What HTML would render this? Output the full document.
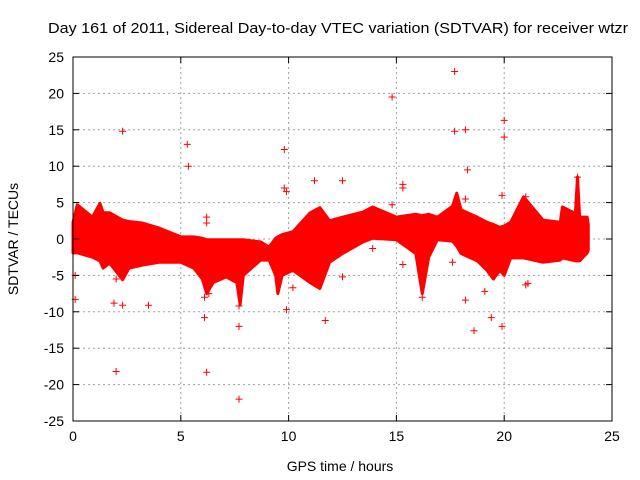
<!DOCTYPE html>
<html><head><meta charset="utf-8"><style>
html,body{margin:0;padding:0;background:#fff}
svg{display:block;font-family:"Liberation Sans",sans-serif}
</style></head><body>
<svg id="chart" width="640" height="480" xmlns="http://www.w3.org/2000/svg">
<text x="48" y="33" font-size="15" textLength="580" lengthAdjust="spacingAndGlyphs">Day 161 of 2011, Sidereal Day-to-day VTEC variation (SDTVAR) for receiver wtzr</text>
<text x="340" y="471" font-size="14" text-anchor="middle">GPS time / hours</text>
<text transform="translate(18,239) rotate(-90)" font-size="14" text-anchor="middle">SDTVAR / TECUs</text>
<g id="grid"></g>
<g id="band"></g>
<g id="axes"></g>
</svg>
<script>
const xTicks=[0,5,10,15,20,25];
const yTicks=[-25,-20,-15,-10,-5,0,5,10,15,20,25];
const bandTime=[0,0.2,0.9,1.25,1.4,1.7,2.3,2.6,3.2,4.0,5.0,5.6,6.0,6.2,6.5,7.1,7.6,7.75,7.9,8.7,9.1,9.4,9.5,9.7,10.2,11.0,11.45,11.9,12.5,13.45,13.9,15.0,15.9,16.2,16.5,16.9,17.6,17.8,18.0,18.75,19.2,19.5,19.8,20.0,20.3,20.9,21.8,22.6,22.7,23.3,23.4,23.5,23.85,23.9];
const bandUpper=[2.3,4.7,3.0,4.9,3.6,3.6,2.6,2.4,2.2,1.5,0.3,0.3,0.1,-0.1,-0.1,-0.1,-0.1,-0.1,-0.1,-0.4,-1.1,0.1,0.3,0.6,1.0,3.6,4.3,2.5,3.0,3.7,4.4,3.0,3.4,3.2,3.4,3.0,4.5,6.3,4.0,3.0,2.3,2.0,1.6,1.8,2.3,5.8,2.6,2.3,4.4,3.5,8.5,3.0,3.0,2.0];
const bandLower=[-1.9,-1.9,-2.5,-3.0,-4.0,-3.3,-5.6,-4.0,-3.6,-3.2,-3.2,-4.0,-5.5,-7.5,-6.0,-5.2,-6.0,-9.0,-5.0,-2.9,-2.9,-5.0,-7.5,-5.0,-4.3,-6.0,-6.8,-3.2,-2.0,-0.4,0.1,-0.1,-2.0,-7.5,-2.5,-0.1,-0.3,-1.0,-2.0,-3.0,-4.3,-5.5,-4.3,-5.0,-2.6,-2.6,-3.2,-2.9,-2.6,-3.0,-3.0,-3.0,-1.9,-1.5];
const outT=[2.3,5.3,5.35,9.8,9.8,9.9,11.2,12.5,14.8,15.3,15.3,17.7,17.7,18.2,18.3,18.2,20,20,19.9,21,23.4,0.1,0.1,1.9,2,2.3,3.5,6.1,6.2,7.7,7.7,7.7,9.9,10.2,11.7,12.5,13.9,16.2,18.2,18.6,19.4,19.1,19.9,21,6.2,6.2,14.8,2,17.6,15.3,21.1,6.1,6.3];
const outV=[14.8,13,10,12.3,7,6.5,8,8,19.5,7.5,7,23,14.8,15,9.5,5.5,16.3,14,6,5.8,8.5,-5,-8.3,-8.8,-18.2,-9.1,-9.1,-10.8,-18.3,-12,-22,-9.2,-9.7,-6.7,-11.2,-5.2,-1.3,-8,-8.4,-12.6,-10.8,-7.2,-12,-6.3,3,2.2,4.7,-5.5,-3.2,-3.5,-6.1,-8,-7.5];
const X0=73,X1=612,Y0=421,Y1=57;
const xs=v=>X0+(v-0)/25*(X1-X0);
const ys=v=>Y0-(v+25)/50*(Y0-Y1);
const NS="http://www.w3.org/2000/svg";
function mk(t,a,p){const e=document.createElementNS(NS,t);for(const k in a)e.setAttribute(k,a[k]);p.appendChild(e);return e;}
const grid=document.getElementById('grid'),axes=document.getElementById('axes'),band=document.getElementById('band');
xTicks.forEach(t=>{
 if(t>0&&t<25){const l=mk('line',{x1:xs(t),x2:xs(t),y1:Y1,y2:Y0,stroke:'#a0a0a0','stroke-dasharray':'2,3'},grid);
 
 }
 mk('line',{x1:xs(t),x2:xs(t),y1:Y0,y2:Y0-6,stroke:'#000'},axes);
 mk('line',{x1:xs(t),x2:xs(t),y1:Y1,y2:Y1+6,stroke:'#000'},axes);
 const tx=mk('text',{x:xs(t),y:Y0+20,'font-size':14,'text-anchor':'middle'},axes);tx.textContent=t;
 
 
});
yTicks.forEach(t=>{
 if(t>-25&&t<25){const l=mk('line',{x1:X0,x2:X1,y1:ys(t),y2:ys(t),stroke:'#a0a0a0','stroke-dasharray':'2,3'},grid);
 
 }
 mk('line',{x1:X0,x2:X0+6,y1:ys(t),y2:ys(t),stroke:'#000'},axes);
 mk('line',{x1:X1,x2:X1-6,y1:ys(t),y2:ys(t),stroke:'#000'},axes);
 const tx=mk('text',{x:X0-9,y:ys(t)+5,'font-size':14,'text-anchor':'end'},axes);tx.textContent=t;
 
 
});
mk('rect',{x:X0,y:Y1,width:X1-X0,height:Y0-Y1,fill:'none',stroke:'#000'},axes);
let pts=bandTime.map((t,i)=>xs(t)+','+ys(bandUpper[i]));
for(let i=bandTime.length-1;i>=0;i--)pts.push(xs(bandTime[i])+','+ys(bandLower[i]));
const poly=mk('polygon',{points:pts.join(' '),fill:'#ff0000',stroke:'#ff0000','stroke-width':3,'stroke-linejoin':'round'},band);


outT.forEach((t,i)=>{
 const x=xs(t),y=ys(outV[i]);
 const p=mk('path',{d:`M${x-3.5},${y}h7M${x},${y-3.5}v7`,stroke:'#ff0000','stroke-width':1},band);
 
 
});
</script>
</body></html>
